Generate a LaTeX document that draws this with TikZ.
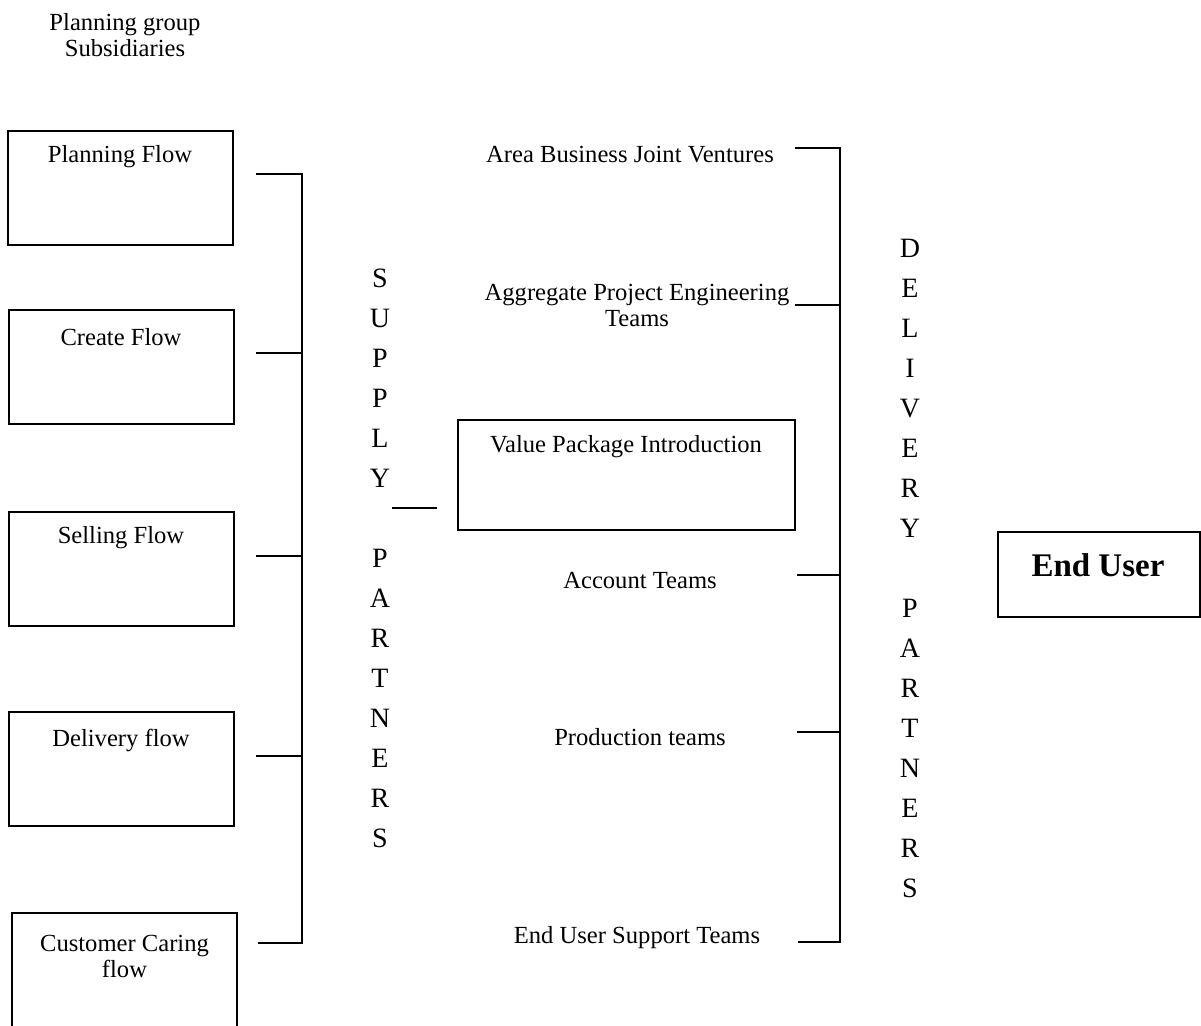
\documentclass[tikz,border=0pt]{standalone}
\usepackage{fontspec}
\setmainfont{Liberation Serif}
\begin{document}
\begin{tikzpicture}[x=0.5pt,y=-0.5pt,
  txt/.style={font=\fontsize{12.3}{13}\selectfont, inner sep=0pt, align=center},
  flowbox/.style={draw, line width=1pt, minimum width=112.5pt, minimum height=57pt, inner sep=0pt},
  bus/.style={line width=1pt},
  vert/.style={font=\fontsize{14}{20}\selectfont, inner sep=0pt, align=center}]
\useasboundingbox (0,0) rectangle (1201,1025);
\clip (0,0) rectangle (1201,1025);

% heading
\node[txt] (head) at (125,35) {Planning group\\Subsidiaries};

% flow boxes on the left
\node[flowbox] (plan) at (120,188) {};
\node[txt] (planT) at (120,157) {Planning Flow};
\node[flowbox] (create) at (121,366.5) {};
\node[txt] (createT) at (121,337) {Create Flow};
\node[flowbox] (sell) at (121,568.5) {};
\node[txt] (sellT) at (121,538) {Selling Flow};
\node[flowbox] (deliv) at (121,769) {};
\node[txt] (delivT) at (121,740) {Delivery flow};
\node[flowbox, minimum height=70pt] (care) at (124.5,983) {};
\node[txt] (careT) at (124.5,956) {Customer Caring\\flow};

% left bracket
\coordinate (p1) at (256,174); \coordinate (b1) at (302,174);
\coordinate (p2) at (256,353); \coordinate (b2) at (302,353);
\coordinate (p3) at (256,556); \coordinate (b3) at (302,556);
\coordinate (p4) at (256,756); \coordinate (b4) at (302,756);
\coordinate (p5) at (258,943); \coordinate (b5) at (302,943);
\draw[bus] (p1) -- (b1) -- (b5) -- (p5);
\draw[bus] (p2) -- (b2);
\draw[bus] (p3) -- (b3);
\draw[bus] (p4) -- (b4);

% supply partners
\node[vert] (supply) at (380,558) {S\\U\\P\\P\\L\\Y\\[20pt]P\\A\\R\\T\\N\\E\\R\\S};
\coordinate (s1) at (392,508); \coordinate (s2) at (437,508);
\draw[bus] (s1) -- (s2);

% middle column
\node[txt] (area) at (630,155) {Area Business Joint Ventures};
\node[txt] (aggr) at (637,305) {Aggregate Project Engineering\\Teams};
\node[draw, line width=1pt, minimum width=168.5pt, minimum height=55pt, inner sep=0pt] (vpi) at (626.5,475) {};
\node[txt] (vpiT) at (626,447) {Value Package Introduction};
\node[txt] (acct) at (640,580) {Account Teams};
\node[txt] (prod) at (640,737) {Production teams};
\node[txt] (supp) at (637,938) {End User Support Teams};

% right bracket
\coordinate (q1) at (795,148); \coordinate (r1) at (840,148);
\coordinate (q2) at (795,305); \coordinate (r2) at (840,305);
\coordinate (q3) at (797,575); \coordinate (r3) at (840,575);
\coordinate (q4) at (797,732); \coordinate (r4) at (840,732);
\coordinate (q5) at (798,942); \coordinate (r5) at (840,942);
\draw[bus] (q1) -- (r1) -- (r5) -- (q5);
\draw[bus] (q2) -- (r2);
\draw[bus] (q3) -- (r3);
\draw[bus] (q4) -- (r4);

% delivery partners
\node[vert] (delivery) at (910,568) {D\\E\\L\\I\\V\\E\\R\\Y\\[20pt]P\\A\\R\\T\\N\\E\\R\\S};

% end user
\node[draw, line width=1pt, minimum width=101pt, minimum height=42.5pt, inner sep=0pt] (user) at (1099,574.5) {};
\node[inner sep=0pt, font=\fontsize{16.5}{18}\selectfont\bfseries] (userT) at (1098,565) {End User};
\end{tikzpicture}
\end{document}
